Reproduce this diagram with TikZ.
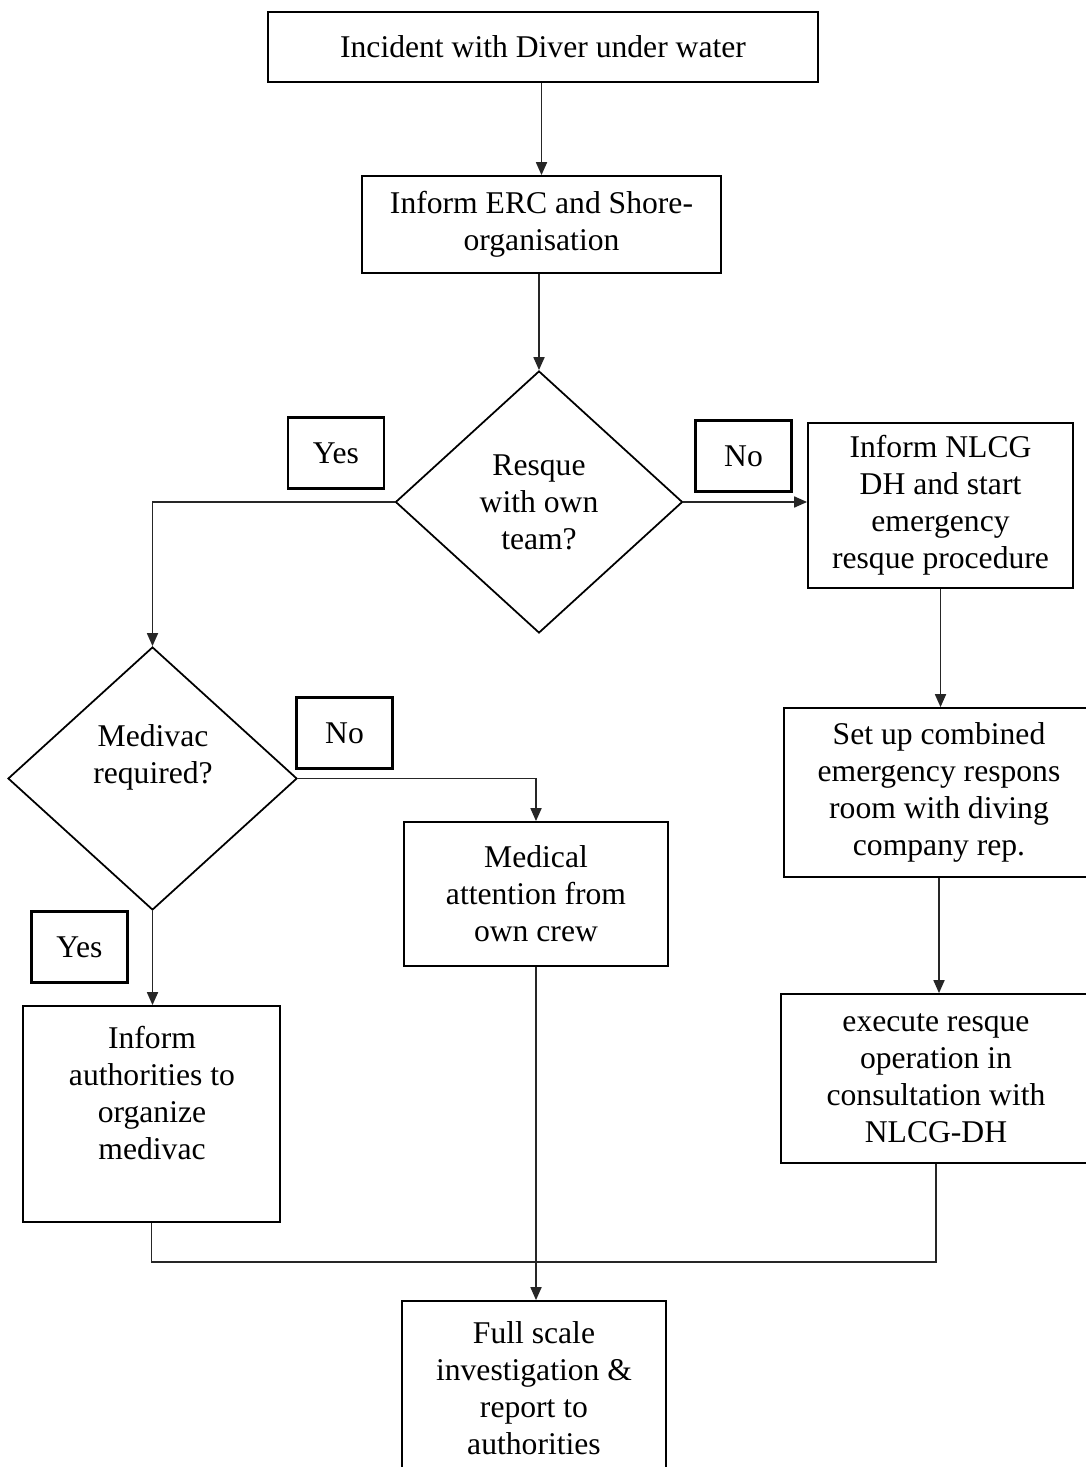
\documentclass[tikz,border=0pt]{standalone}
\usepackage{fontspec}
\setmainfont{Liberation Serif}
\usepackage{tikz}
\usetikzlibrary{shapes.geometric,arrows.meta,positioning,calc}

\begin{document}
\begin{tikzpicture}[
      box/.style={draw, line width=1pt, align=center,
        font=\fontsize{18}{21}\selectfont, inner sep=2pt},
      dia/.style={draw, diamond, line width=1pt, align=center,
        font=\fontsize{18}{21}\selectfont, inner sep=0pt},
      txt/.style={align=center, font=\fontsize{18}{21}\selectfont},
      tag/.style={draw, line width=1.3pt, minimum width=1.92cm,
        minimum height=1.42cm, font=\fontsize{18}{21}\selectfont},
      arr/.style={-{Triangle[length=2.6mm,width=2.2mm]}, line width=1pt, black!85},
      conn/.style={line width=1pt, black!85}
    ]
      \useasboundingbox (0,0) rectangle (21.72,-29.34);

      % Top of the chart
      \node[box, minimum width=11cm, minimum height=1.4cm] (incident)
        at (10.86,-0.94) {Incident with Diver under water};
      \node[box, minimum width=7.18cm, minimum height=1.94cm] (erc)
        at (10.83,-4.49) {Inform ERC and Shore-\\organisation};
      \node[dia, minimum width=5.74cm, minimum height=5.24cm] (resque)
        at (10.78,-10.04) {Resque\\with own\\team?};
      \node[tag] (yes1) at (6.72,-9.06) {Yes};
      \node[tag] (no1) at (14.87,-9.12) {No};

      % Own team branch
      \node[dia, minimum width=5.78cm, minimum height=5.26cm] (medivac)
        at (3.05,-15.57) {};
      \node[txt] (medivactxt) at (3.06,-15.14) {Medivac\\required?};
      \node[tag] (no2) at (6.89,-14.66) {No};
      \node[tag] (yes2) at (1.59,-18.94) {Yes};
      \node[box, minimum width=5.28cm, minimum height=2.88cm] (medical)
        at (10.72,-17.88) {Medical\\attention from\\own crew};
      \node[box, minimum width=5.14cm, minimum height=4.32cm] (auth)
        at (3.03,-22.28) {};
      \node[txt] (authtxt) at (3.04,-21.86)
        {Inform\\authorities to\\organize\\medivac};

      % Emergency branch
      \node[box, minimum width=5.3cm, minimum height=3.3cm] (nlcg)
        at (18.81,-10.11) {Inform NLCG\\DH and start\\emergency\\resque procedure};
      \node[box, minimum width=6.2cm, minimum height=3.38cm] (combined)
        at (18.78,-15.85) {Set up combined\\emergency respons\\room with diving\\company rep.};
      \node[box, minimum width=6.2cm, minimum height=3.38cm] (execute)
        at (18.72,-21.57) {execute resque\\operation in\\consultation with\\NLCG-DH};

      % Bottom
      \node[box, minimum width=5.28cm, minimum height=3.48cm] (invest)
        at (10.68,-27.76) {Full scale\\investigation \&\\report to\\authorities};

      % Arrows
      \draw[arr] (erc.north |- incident.south) -- (erc.north);
      \draw[arr] (resque.north |- erc.south) -- (resque.north);
      \draw[arr] (resque.west) -| (medivac.north);
      \draw[arr] (resque.east) -- (resque.east -| nlcg.west);
      \draw[arr] (nlcg.south) -- (nlcg.south |- combined.north);
      \draw[arr] (combined.south) -- (combined.south |- execute.north);
      \draw[arr] (medivac.east) -| (medical.north);
      \draw[arr] (medivac.south) -- (medivac.south |- auth.north);
      \draw[arr] (medical.south) -- (medical.south |- invest.north);

      % Joining line
      \coordinate (merge) at (3.03,-25.24);
      \draw[conn] (auth.south) -- (merge) -| (execute.south);
    \end{tikzpicture}
\end{document}
